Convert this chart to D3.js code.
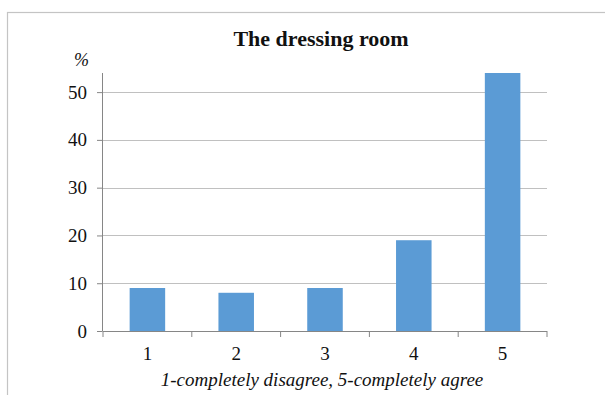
<!DOCTYPE html>
<html>
<head>
<meta charset="utf-8">
<script src="https://cdn.jsdelivr.net/npm/d3@7"></script>
<style>
  html, body { margin: 0; padding: 0; background: #fff; }
  svg { display: block; }
  svg text { font-family: "Liberation Serif", "Times New Roman", Times, serif; fill: #111; }
</style>
</head>
<body>
<svg id="chart" width="605" height="395"></svg>
<script>
// Survey answers: "The dressing room", share of respondents per score
const categories = ["1", "2", "3", "4", "5"];
const percentages = [9, 8, 9, 19, 54];
const yTicks = [0, 10, 20, 30, 40, 50];

const svg = d3.select("#chart");
const W = 605, H = 395;
const margin = { left: 103, right: 58, top: 73, bottom: 64 };
const plotW = W - margin.left - margin.right;
const plotH = H - margin.top - margin.bottom;

// outer chart frame (runs past the right and bottom edges)
svg.append("rect")
  .attr("x", 7.5).attr("y", 12.5)
  .attr("width", 640).attr("height", 420)
  .attr("fill", "none").attr("stroke", "#c4c4c4").attr("stroke-width", 1.2);

const x = d3.scaleBand().domain(categories).range([0, plotW]).padding(0);
const y = d3.scaleLinear().domain([0, 54]).range([plotH, 0]);

const g = svg.append("g").attr("transform", `translate(${margin.left},${margin.top})`);

// horizontal gridlines
g.append("g")
  .selectAll("line")
  .data(yTicks.filter(d => d > 0))
  .join("line")
  .attr("x1", 0).attr("x2", plotW)
  .attr("y1", d => Math.round(y(d)) + 0.5).attr("y2", d => Math.round(y(d)) + 0.5)
  .attr("stroke", "#c0c0c0").attr("stroke-width", 1);

// bars: 40% of each category slot, centred
const barW = x.bandwidth() * 0.4;
g.append("g")
  .selectAll("rect")
  .data(percentages)
  .join("rect")
  .attr("x", (d, i) => x(categories[i]) + (x.bandwidth() - barW) / 2)
  .attr("y", d => y(d))
  .attr("width", barW)
  .attr("height", d => plotH - y(d))
  .attr("fill", "#5b9bd5");

// y axis
const yAxis = d3.axisLeft(y).tickValues(yTicks).tickSize(6).tickPadding(10).tickFormat(d3.format("d"));
const ya = g.append("g").call(yAxis).attr("font-family", null);
ya.select(".domain").attr("d", `M-0.5,0V${plotH}`);
ya.selectAll(".domain, .tick line").attr("stroke", "#868686");
ya.selectAll(".tick line").attr("x1", -0.5);
ya.selectAll("text").style("font-size", "19px");

// x axis with ticks at slot boundaries
const xa = g.append("g").attr("transform", `translate(0,${plotH})`)
  .call(d3.axisBottom(x).tickSize(0).tickPadding(16)).attr("font-family", null);
xa.select(".domain").attr("stroke", "#868686").attr("d", `M0,0.5H${plotW}`);
xa.selectAll("text").style("font-size", "19px");
xa.append("g")
  .selectAll("line")
  .data(d3.range(categories.length + 1))
  .join("line")
  .attr("x1", i => i * x.step()).attr("x2", i => i * x.step())
  .attr("y1", 0).attr("y2", 6)
  .attr("stroke", "#868686");

// title
svg.append("text")
  .attr("x", 321).attr("y", 46)
  .attr("text-anchor", "middle")
  .style("font-size", "22px").style("font-weight", "bold")
  .text("The dressing room");

// unit label
svg.append("text")
  .attr("x", 81.5).attr("y", 66)
  .attr("text-anchor", "middle")
  .style("font-size", "18px").style("font-style", "italic")
  .text("%");

// x axis title
svg.append("text")
  .attr("x", 322).attr("y", 386)
  .attr("text-anchor", "middle")
  .style("font-size", "19px").style("font-style", "italic")
  .text("1-completely disagree, 5-completely agree");
</script>
</body>
</html>
